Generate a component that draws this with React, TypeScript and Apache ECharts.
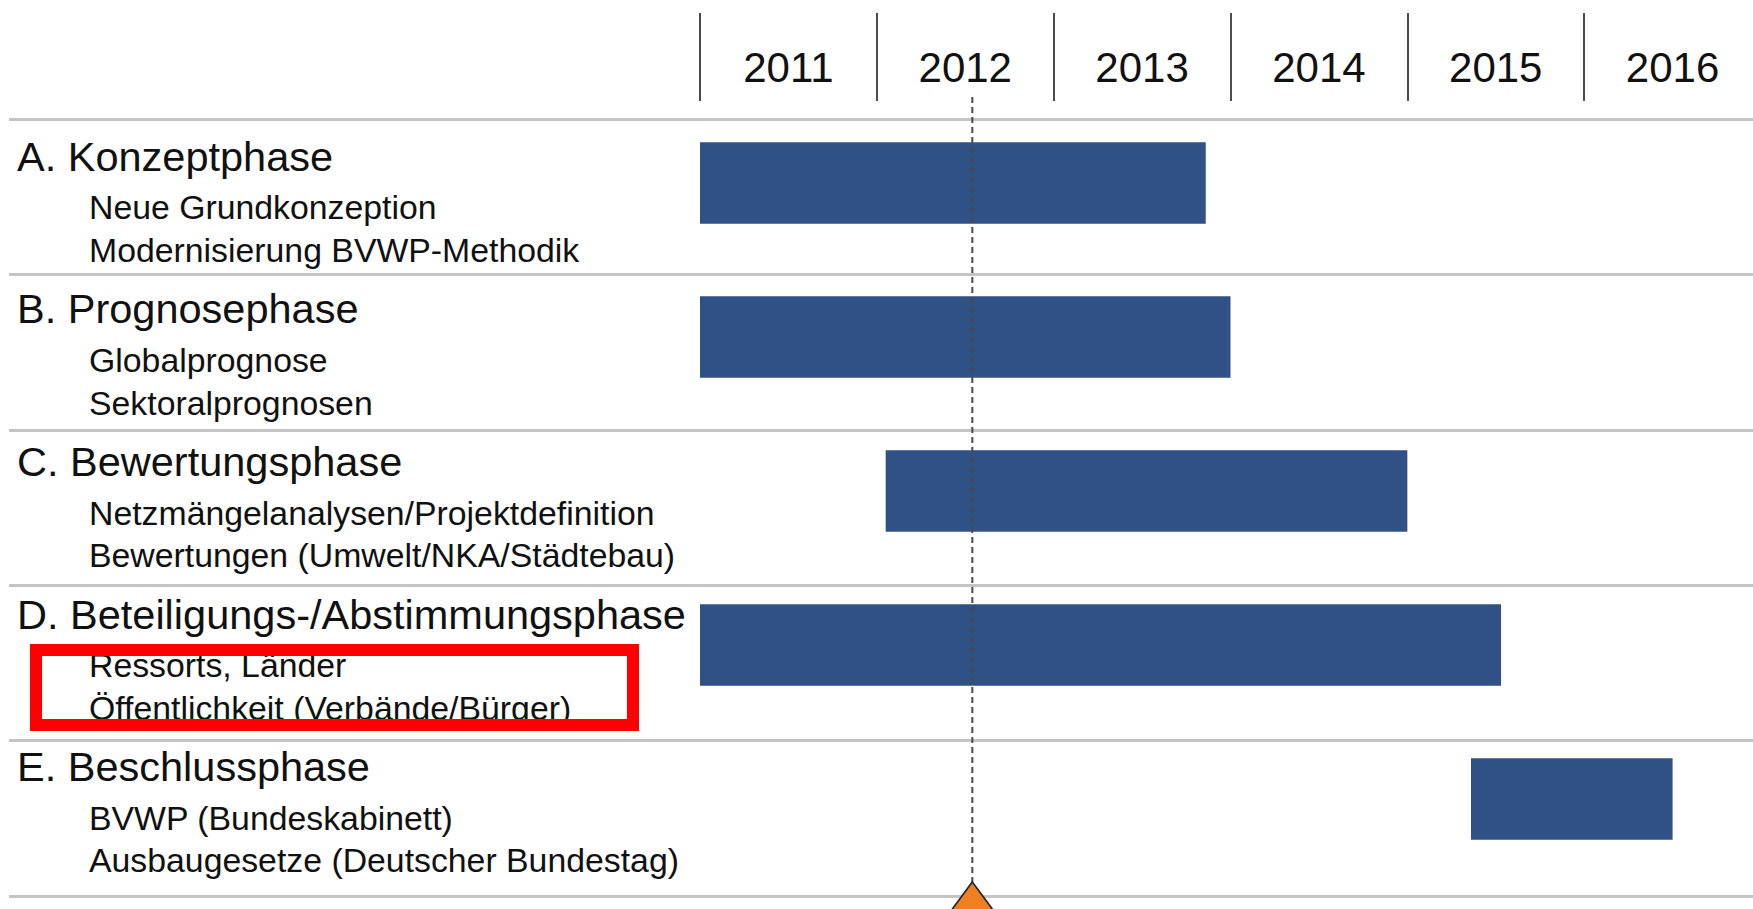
import React, { useEffect, useRef } from "react";
import * as echarts from "echarts";

// ---- data ----
const years = ["2011", "2012", "2013", "2014", "2015", "2016"];
const phaseTitles = [
  "A. Konzeptphase",
  "B. Prognosephase",
  "C. Bewertungsphase",
  "D. Beteiligungs-/Abstimmungsphase",
  "E. Beschlussphase",
];
const phaseSub1 = [
  "Neue Grundkonzeption",
  "Globalprognose",
  "Netzmängelanalysen/Projektdefinition",
  "Ressorts, Länder",
  "BVWP (Bundeskabinett)",
];
const phaseSub2 = [
  "Modernisierung BVWP-Methodik",
  "Sektoralprognosen",
  "Bewertungen (Umwelt/NKA/Städtebau)",
  "Öffentlichkeit (Verbände/Bürger)",
  "Ausbaugesetze (Deutscher Bundestag)",
];
const phaseStart = [2011.0, 2011.0, 2012.05, 2011.0, 2015.36];
const phaseEnd = [2013.86, 2014.0, 2015.0, 2015.53, 2016.5];
const todayMark = 2012.54;

const FONT = "'Liberation Sans', Arial, sans-serif";
const TEXT = "#111111";

export default function App() {
  const ref = useRef<HTMLDivElement>(null);
  useEffect(() => {
    if (!ref.current) return;
    const chart = echarts.init(ref.current, undefined, { renderer: "svg" });
    const barData = phaseStart.map((s, i) => [s, phaseEnd[i], i]);
    chart.setOption({
      animation: false,
      backgroundColor: "#ffffff",
      grid: [
        // 0: row separator lines
        { left: 9, right: 0, top: 119, height: 777 },
        // 1: gantt bars
        { left: 700, width: 1061, top: 122.2, height: 770 },
        // 2: year header
        { left: 700, width: 1061, top: 100, height: 1 },
        // 3: phase labels
        { left: 9, right: 0, top: 122.6, height: 763 },
      ],
      xAxis: [
        { gridIndex: 0, type: "value", show: false, min: 0, max: 1 },
        { gridIndex: 1, type: "value", show: false, min: 2011, max: 2017 },
        {
          gridIndex: 2,
          type: "category",
          position: "top",
          data: years,
          axisLine: { show: false },
          axisTick: {
            show: true,
            length: 88,
            interval: 0,
            lineStyle: { color: TEXT, width: 1.5 },
          },
          axisLabel: {
            fontSize: 42,
            lineHeight: 42,
            color: TEXT,
            fontFamily: FONT,
            margin: 12,
            interval: 0,
          },
          splitLine: { show: false },
        },
        { gridIndex: 3, type: "value", show: false, min: 0, max: 1 },
      ],
      yAxis: [
        {
          gridIndex: 0,
          type: "category",
          inverse: true,
          data: phaseTitles,
          axisLine: { show: false },
          axisTick: { show: false },
          axisLabel: { show: false },
          splitLine: {
            show: true,
            lineStyle: { color: "#C4C4C4", width: 3 },
          },
        },
        {
          gridIndex: 1,
          type: "value",
          inverse: true,
          min: 0,
          max: 5,
          show: false,
        },
        { gridIndex: 2, type: "value", show: false },
        {
          gridIndex: 3,
          type: "category",
          inverse: true,
          data: phaseTitles,
          axisLine: { show: false },
          axisTick: { show: false },
          splitLine: { show: false },
          axisLabel: {
            inside: true,
            margin: 8,
            interval: 0,
            align: "left",
            formatter: (v: string, i: number) =>
              `{t|${v}}\n{s|${phaseSub1[i]}}\n{s|${phaseSub2[i]}}`,
            rich: {
              t: {
                fontSize: 41.5,
                lineHeight: 59.6,
                color: TEXT,
                fontFamily: FONT,
                align: "left",
              },
              s: {
                fontSize: 33.8,
                lineHeight: 42.6,
                color: TEXT,
                fontFamily: FONT,
                align: "left",
                padding: [0, 0, 0, 72],
              },
            },
          },
        },
      ],
      series: [
        {
          type: "custom",
          xAxisIndex: 1,
          yAxisIndex: 1,
          data: barData,
          encode: { x: [0, 1], y: 2 },
          z: 2,
          renderItem: (params: any, api: any) => {
            const s = api.value(0);
            const e = api.value(1);
            const r = api.value(2);
            const p1 = api.coord([s, r + 0.13]);
            const p2 = api.coord([e, r + 0.66]);
            return {
              type: "rect",
              shape: {
                x: p1[0],
                y: p1[1],
                width: p2[0] - p1[0],
                height: p2[1] - p1[1],
              },
              style: { fill: "#2F5185" },
            };
          },
        },
        {
          type: "line",
          xAxisIndex: 1,
          yAxisIndex: 1,
          clip: false,
          z: 3,
          symbol: "none",
          data: [
            [todayMark, -0.164],
            [todayMark, 4.934],
          ],
          lineStyle: { color: "#4a4a4a", width: 2, type: [6, 4] },
        },
        {
          type: "scatter",
          xAxisIndex: 1,
          yAxisIndex: 1,
          clip: false,
          z: 4,
          symbol: "triangle",
          symbolSize: [80, 54],
          data: [[todayMark, 5.109]],
          itemStyle: {
            color: "#F07F22",
            borderColor: "#222222",
            borderWidth: 1.5,
            opacity: 1,
          },
        },
      ],
      graphic: [
        {
          type: "rect",
          z: 100,
          shape: { x: 36, y: 650, width: 597, height: 75 },
          style: { fill: "none", stroke: "#FF0000", lineWidth: 12 },
        },
      ],
    });
    return () => chart.dispose();
  }, []);
  return (
    <div
      ref={ref}
      style={{ position: "fixed", left: 0, top: 0, width: 1770, height: 909 }}
    />
  );
}
